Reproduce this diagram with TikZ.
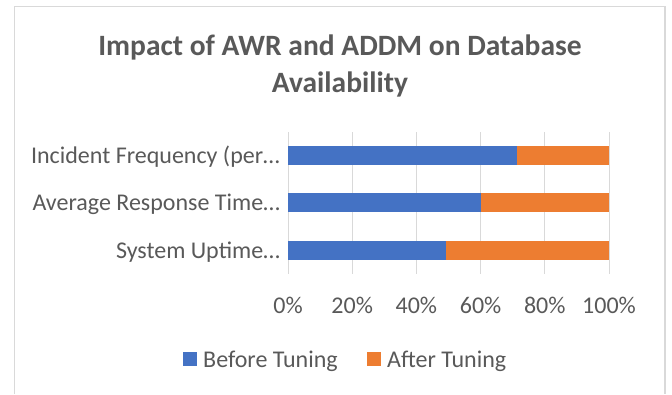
\documentclass[tikz,border=0pt]{standalone}
\usepackage{fontspec}
\setmainfont{Carlito}
\usetikzlibrary{positioning}
\definecolor{beforeblue}{HTML}{4472C4}
\definecolor{afterorange}{HTML}{ED7D31}
\definecolor{gridgray}{HTML}{D9D9D9}
\definecolor{textgray}{HTML}{595959}

\begin{document}
\begin{tikzpicture}[x=1pt,y=-1pt,
    titletext/.style={text=textgray,font=\fontsize{29.5}{33}\selectfont\bfseries,inner sep=0pt,anchor=base},
    lbl/.style={text=textgray,font=\fontsize{24}{28}\selectfont,inner sep=0pt},
    gridline/.style={draw=gridgray,line width=1pt},
    key/.style={minimum size=14pt,inner sep=0pt}]
\useasboundingbox (0,0) rectangle (672,394);
% Chart frame
\draw[gridgray,line width=1.5pt] (14.7,394) -- (14.7,6.7) -- (665,6.7) -- (665,394);
% Title
\node[titletext] (title1) at (340,55) {Impact of AWR and ADDM on Database};
\node[titletext] (title2) at (340,92) {Availability};
% Grid lines and percent labels
\foreach \p in {0,20,...,100} {
    \draw[gridline] ({288+3.21*\p},132) -- ({288+3.21*\p},274);
    \node[lbl,anchor=base] (tick\p) at ({288+3.21*\p},313) {\p\%};
}
% Bars (before / after share)
\foreach \i/\yc/\b in {1/155.5/71.3, 2/202.5/60, 3/250.5/49.2} {
    \fill[beforeblue] (288,\yc-9.5) rectangle ({288+3.21*\b},\yc+9.5);
    \fill[afterorange] ({288+3.21*\b},\yc-9.5) rectangle (609,\yc+9.5);
}
% Category labels
\node[lbl,anchor=base east] (cat1) at (280,163) {Incident Frequency (per…};
\node[lbl,anchor=base east] (cat2) at (280,210) {Average Response Time…};
\node[lbl,anchor=base east] (cat3) at (280,258) {System Uptime…};
% Legend
\node[key,fill=beforeblue] (keybefore) at (190,359) {};
\node[lbl,anchor=base west] (txtbefore) at (203,367) {Before Tuning};
\node[key,fill=afterorange] (keyafter) at (374,359) {};
\node[lbl,anchor=base west] (txtafter) at (387,367) {After Tuning};
\end{tikzpicture}
\end{document}
